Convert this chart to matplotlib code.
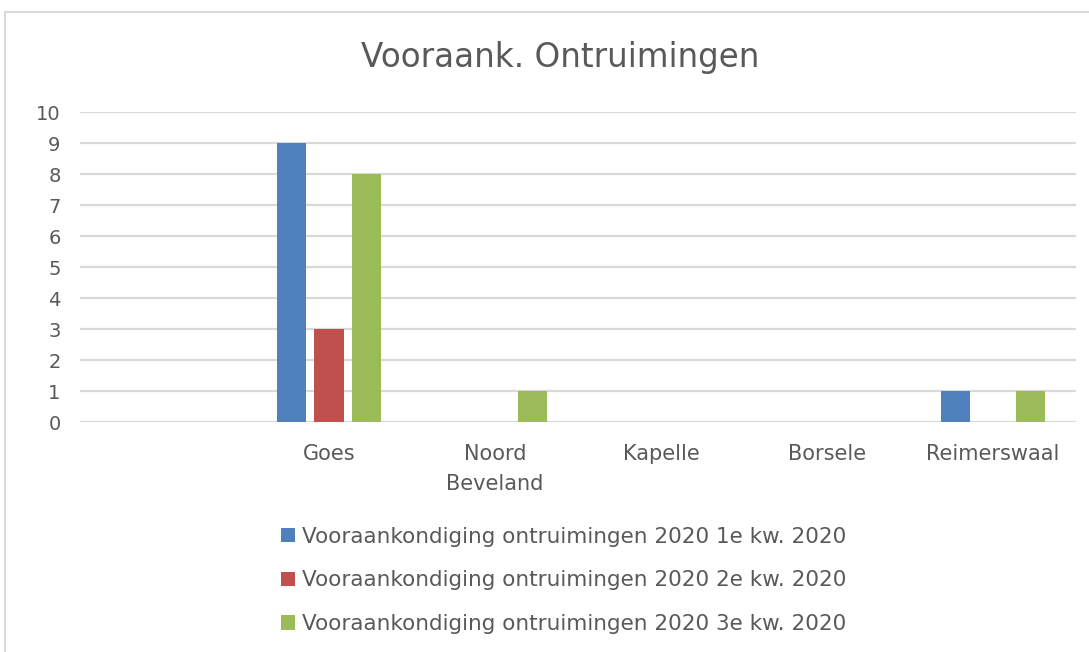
import numpy as np
import matplotlib
matplotlib.use('Agg')
import matplotlib.pyplot as plt
from matplotlib.patches import Rectangle

plt.rcParams['font.family'] = ['DejaVu Sans']

categories = ['', 'Goes', 'Noord\nBeveland', 'Kapelle', 'Borsele', 'Reimerswaal']
kw1 = [0, 9, 0, 0, 0, 1]
kw2 = [0, 3, 0, 0, 0, 0]
kw3 = [0, 8, 1, 0, 0, 1]
series_names = ['Vooraankondiging ontruimingen 2020 1e kw. 2020',
                'Vooraankondiging ontruimingen 2020 2e kw. 2020',
                'Vooraankondiging ontruimingen 2020 3e kw. 2020']
colors = ['#4F81BD', '#C0504D', '#9BBB59']

fig = plt.figure(figsize=(10.89, 6.52), dpi=100)
fig.patches.append(Rectangle((5/1089, -0.1), 1.2, 1 - 12/652 + 0.1, transform=fig.transFigure,
                             fill=False, edgecolor='#d9d9d9', linewidth=1.5))
ax = fig.add_axes([80/1089, 1 - 422/652, (1076-80)/1089, (422-112)/652])

x = np.arange(len(categories))
w = 0.175
step = 0.225
for i, (vals, c, name) in enumerate(zip([kw1, kw2, kw3], colors, series_names)):
    ax.bar(x + (i - 1) * step, vals, width=w, color=c, label=name, zorder=3)

ax.set_xlim(-0.5, len(categories) - 0.5)
ax.set_ylim(0, 10)
ax.set_yticks(range(0, 11))
ax.set_xticks(x)
ax.set_xticklabels(categories, linespacing=1.6)
ax.tick_params(axis='both', length=0, labelsize=14, colors='#595959')
ax.tick_params(axis='x', labelsize=15, pad=16)
ax.tick_params(axis='y', pad=14)
ax.yaxis.grid(True, color='#d9d9d9', linewidth=1.6, zorder=0)
for s in ax.spines.values():
    s.set_visible(False)

fig.text(560/1089, 1 - 58/652, 'Vooraank. Ontruimingen', ha='center', va='center',
         fontsize=23.5, color='#595959')

handles, labels = ax.get_legend_handles_labels()
fig.legend(handles, labels, loc='upper left', bbox_to_anchor=(270/1089, 1 - 516/652),
           frameon=False, fontsize=15.5, labelcolor='#595959', handlelength=0.65,
           handleheight=0.65, handletextpad=0.35, labelspacing=1.1, borderpad=0)

fig.savefig('out.png', dpi=100)
